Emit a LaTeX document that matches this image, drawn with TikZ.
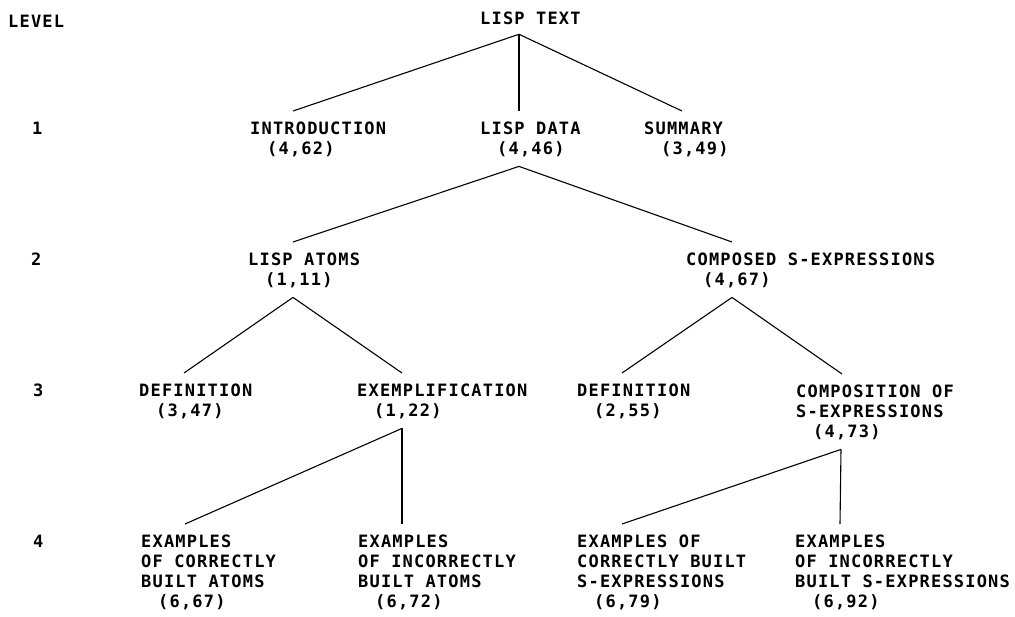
\documentclass[tikz,border=0pt]{standalone}
\usepackage{fontspec}
\usepackage{tikz}
\usetikzlibrary{positioning}
\newfontfamily\plotter[LetterSpace=7]{DejaVu Sans Mono}
\newcommand{\secpage}[1]{\hspace*{17pt}(#1)}
\tikzstyle{topic} = [anchor=north west,inner sep=0pt,align=left,font={\plotter\bfseries\fontsize{17}{20}\selectfont}]
\tikzstyle{branch} = [line width=1.1pt]

\begin{document}
\begin{tikzpicture}[x=1pt,y=-1pt]
                  \useasboundingbox (0,0) rectangle (1015,616);
                  % level numbers
                  \node (level)[topic] at (8,15)   {LEVEL};
                  \node (lv1)[topic]   at (32,122) {1};
                  \node (lv2)[topic]   at (31,253) {2};
                  \node (lv3)[topic]   at (33,384) {3};
                  \node (lv4)[topic]   at (33,535) {4};

                  % the tree
                  \node (text)[topic]      at (480,12)  {LISP TEXT};
                  \node (intro)[topic]     at (250,122) {INTRODUCTION\\\secpage{4,62}};
                  \node (data)[topic]      at (480,122) {LISP DATA\\\secpage{4,46}};
                  \node (summary)[topic]   at (644,122) {SUMMARY\\\secpage{3,49}};
                  \node (atoms)[topic]     at (248,253) {LISP ATOMS\\\secpage{1,11}};
                  \node (composed)[topic]  at (686,253) {COMPOSED S-EXPRESSIONS\\\secpage{4,67}};
                  \node (defatoms)[topic]  at (139,384) {DEFINITION\\\secpage{3,47}};
                  \node (exempl)[topic]    at (357,384) {EXEMPLIFICATION\\\secpage{1,22}};
                  \node (defsexpr)[topic]  at (577,384) {DEFINITION\\\secpage{2,55}};
                  \node (composit)[topic]  at (796,385) {COMPOSITION OF\\S-EXPRESSIONS\\\secpage{4,73}};
                  \node (goodatoms)[topic] at (141,535) {EXAMPLES\\OF CORRECTLY\\BUILT ATOMS\\\secpage{6,67}};
                  \node (badatoms)[topic]  at (358,535) {EXAMPLES\\OF INCORRECTLY\\BUILT ATOMS\\\secpage{6,72}};
                  \node (goodsexpr)[topic] at (577,535) {EXAMPLES OF\\CORRECTLY BUILT\\S-EXPRESSIONS\\\secpage{6,79}};
                  \node (badsexpr)[topic]  at (795,535) {EXAMPLES\\OF INCORRECTLY\\BUILT S-EXPRESSIONS\\\secpage{6,92}};

                  \draw[branch] ([xshift=39pt,yshift=-9pt]text.south west) -- ([xshift=43pt,yshift=11pt]intro.north west);
                  \draw[branch] ([xshift=39pt,yshift=-9pt]text.south west) -- ([xshift=39pt,yshift=11pt]data.north west);
                  \draw[branch] ([xshift=39pt,yshift=-9pt]text.south west) -- ([xshift=38pt,yshift=11pt]summary.north west);
                  \draw[branch] ([xshift=39pt,yshift=-9pt]data.south west) -- ([xshift=45pt,yshift=11pt]atoms.north west);
                  \draw[branch] ([xshift=39pt,yshift=-9pt]data.south west) -- ([xshift=46pt,yshift=11pt]composed.north west);
                  \draw[branch] ([xshift=45pt,yshift=-9pt]atoms.south west) -- ([xshift=45pt,yshift=11pt]defatoms.north west);
                  \draw[branch] ([xshift=45pt,yshift=-9pt]atoms.south west) -- ([xshift=45pt,yshift=11pt]exempl.north west);
                  \draw[branch] ([xshift=46pt,yshift=-9pt]composed.south west) -- ([xshift=45pt,yshift=11pt]defsexpr.north west);
                  \draw[branch] ([xshift=46pt,yshift=-9pt]composed.south west) -- ([xshift=46pt,yshift=11pt]composit.north west);
                  \draw[branch] ([xshift=45pt,yshift=-9pt]exempl.south west) -- ([xshift=44pt,yshift=11pt]goodatoms.north west);
                  \draw[branch] ([xshift=45pt,yshift=-9pt]exempl.south west) -- ([xshift=44pt,yshift=11pt]badatoms.north west);
                  \draw[branch] ([xshift=45pt,yshift=-9pt]composit.south west) -- ([xshift=45pt,yshift=11pt]goodsexpr.north west);
                  \draw[branch] ([xshift=45pt,yshift=-9pt]composit.south west) -- ([xshift=45pt,yshift=11pt]badsexpr.north west);
            \end{tikzpicture}
\end{document}
